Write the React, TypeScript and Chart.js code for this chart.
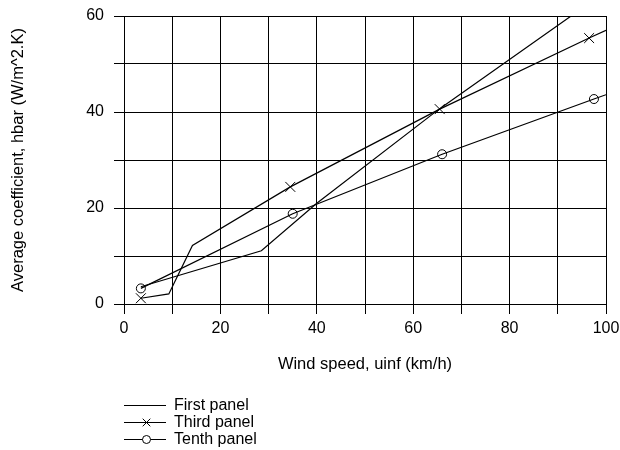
import React, { useEffect, useRef } from "react";
import { Chart, registerables } from "chart.js";

Chart.register(...registerables);

// Wind speed (km/h) and average coefficient hbar (W/m^2.K)
const firstX = [3.5, 28.5, 40, 65.5, 97];
const firstY = [3.6, 11.1, 21.0, 40.7, 63];

const thirdX = [3.5, 9.3, 14.2, 34.5, 65.5, 96.5, 100];
const thirdY = [1.2, 2.1, 12.2, 24.4, 40.6, 55.4, 57.0];
const thirdMarked = [true, false, false, true, true, true, false];

const tenthX = [3.5, 35, 66, 97.5, 100];
const tenthY = [3.25, 18.8, 31.2, 42.7, 43.6];
const tenthMarked = [true, true, true, true, false];

const seriesLabels = ["First panel", "Third panel", "Tenth panel"];
const xTitle = "Wind speed, uinf (km/h)";
const yTitle = "Average coefficient, hbar (W/m^2.K)";

const FONT = '"Liberation Sans", Arial, sans-serif';

const toPoints = (xs: number[], ys: number[]) => xs.map((x, i) => ({ x, y: ys[i] }));

const legendPlugin = {
  id: "customLegend",
  afterDraw(chart: any) {
    const ctx = chart.ctx;
    const rows = [405.5, 422.5, 439.5];
    const styles: (string | null)[] = [null, "crossRot", "circle"];
    const mx = 146.5;
    ctx.save();
    rows.forEach((y, i) => {
      ctx.strokeStyle = "#000";
      ctx.lineWidth = 1.2;
      ctx.beginPath();
      ctx.moveTo(124, y);
      ctx.lineTo(166, y);
      ctx.stroke();
      const st = styles[i];
      ctx.lineWidth = 1;
      if (st === "crossRot") {
        const r = 3.8;
        ctx.beginPath();
        ctx.moveTo(mx - r, y - r);
        ctx.lineTo(mx + r, y + r);
        ctx.moveTo(mx - r, y + r);
        ctx.lineTo(mx + r, y - r);
        ctx.stroke();
      } else if (st === "circle") {
        ctx.beginPath();
        ctx.arc(mx, y, 4, 0, Math.PI * 2);
        ctx.fillStyle = "#fff";
        ctx.fill();
        ctx.stroke();
      }
      ctx.fillStyle = "#000";
      ctx.font = `16px ${FONT}`;
      ctx.textBaseline = "middle";
      ctx.textAlign = "left";
      ctx.fillText(seriesLabels[i], 174, y + 0.5);
    });
    ctx.restore();
  },
};

export default function App() {
  const ref = useRef<HTMLCanvasElement | null>(null);

  useEffect(() => {
    document.body.style.margin = "0";
    const canvas = ref.current;
    if (!canvas) return;
    const tickCb = (v: any) => (Number(v) % 20 === 0 ? String(v) : "");
    const chart = new Chart(canvas, {
      type: "line",
      data: {
        datasets: [
          {
            label: seriesLabels[0],
            data: toPoints(firstX, firstY),
            borderColor: "#000",
            borderWidth: 1.2,
            pointRadius: 0,
            tension: 0,
          },
          {
            label: seriesLabels[1],
            data: toPoints(thirdX, thirdY),
            borderColor: "#000",
            borderWidth: 1.2,
            pointStyle: "crossRot",
            pointRadius: thirdMarked.map((m) => (m ? 7 : 0)),
            pointBorderColor: "#000",
            pointBorderWidth: 1,
            tension: 0,
          },
          {
            label: seriesLabels[2],
            data: toPoints(tenthX, tenthY),
            borderColor: "#000",
            borderWidth: 1.2,
            pointStyle: "circle",
            pointRadius: tenthMarked.map((m) => (m ? 4.5 : 0)),
            pointBackgroundColor: "rgba(255,255,255,0)",
            pointBorderColor: "#000",
            pointBorderWidth: 1,
            tension: 0,
          },
        ],
      },
      options: {
        responsive: false,
        animation: false,
        devicePixelRatio: 1,
        layout: { padding: { left: 0, top: 16, right: 14, bottom: 66 } },
        plugins: {
          legend: { display: false },
          tooltip: { enabled: false },
        },
        scales: {
          x: {
            type: "linear",
            min: 0,
            max: 100,
            afterFit: (s: any) => {
              s.height = 80;
              s.paddingLeft = 0;
              s.paddingRight = 0;
            },
            ticks: {
              stepSize: 10,
              autoSkip: false,
              maxRotation: 0,
              callback: tickCb,
              color: "#000",
              padding: 5,
              font: { family: FONT, size: 16 },
            },
            grid: { color: "#000", lineWidth: 1, tickLength: 10, drawTicks: true },
            border: { color: "#000", width: 1 },
            title: {
              display: true,
              text: xTitle,
              color: "#000",
              font: { family: FONT, size: 16.5 },
              padding: { top: 0, bottom: 10 },
            },
          },
          y: {
            type: "linear",
            min: 0,
            max: 60,
            afterFit: (s: any) => {
              s.width = 124;
              s.paddingTop = 0;
              s.paddingBottom = 0;
            },
            ticks: {
              stepSize: 10,
              autoSkip: false,
              callback: tickCb,
              color: "#000",
              padding: 10,
              font: { family: FONT, size: 16 },
            },
            grid: { color: "#000", lineWidth: 1, tickLength: 10, drawTicks: true },
            border: { color: "#000", width: 1 },
            title: {
              display: true,
              text: yTitle,
              color: "#000",
              font: { family: FONT, size: 16.5 },
              padding: { top: 9, bottom: 0 },
            },
          },
        },
      },
      plugins: [legendPlugin],
    } as any);
    return () => chart.destroy();
  }, []);

  return (
    <div style={{ width: 620, height: 450, background: "#fff" }}>
      <canvas ref={ref} width={620} height={450} style={{ display: "block", width: 620, height: 450 }} />
    </div>
  );
}
